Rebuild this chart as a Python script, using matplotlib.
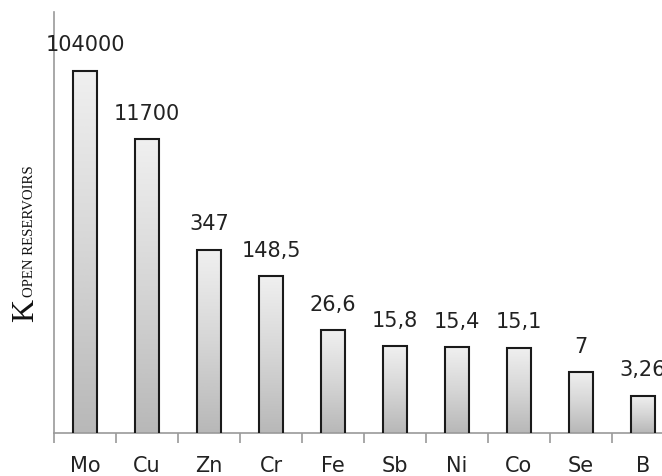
import numpy as np
import matplotlib
matplotlib.use("Agg")
import matplotlib.pyplot as plt
from matplotlib.colors import LinearSegmentedColormap

categories = ["Mo", "Cu", "Zn", "Cr", "Fe", "Sb", "Ni", "Co", "Se", "B"]
values = [104000, 11700, 347, 148.5, 26.6, 15.8, 15.4, 15.1, 7, 3.26]
value_labels = ["104000", "11700", "347", "148,5", "26,6", "15,8", "15,4", "15,1", "7", "3,26"]

W, H, DPI = 662, 476, 100
fig = plt.figure(figsize=(W / DPI, H / DPI), dpi=DPI)
ax = fig.add_axes([54 / W, 43 / H, 620 / W, 421 / H])

x = np.arange(len(categories))
ax.set_yscale("log")
ax.set_xlim(-0.5, len(categories) - 0.5)
ax.set_ylim(1, 10 ** 5.83)

bars = ax.bar(x, values, width=0.4, facecolor="none", edgecolor="#1a1a1a",
              linewidth=1.5, zorder=3)

cmap = LinearSegmentedColormap.from_list("g", ["#b8b8b8", "#d6d6d6", "#f0f0f0"])
grad = np.linspace(0, 1, 256).reshape(-1, 1)
to_axes = ax.transAxes.inverted()
for b, v in zip(bars, values):
    ytop = to_axes.transform(ax.transData.transform((0, v)))[1]
    im = ax.imshow(grad, cmap=cmap, aspect="auto", origin="lower",
                   extent=(b.get_x(), b.get_x() + b.get_width(), 0, ytop),
                   transform=ax.get_xaxis_transform(), zorder=2,
                   interpolation="bilinear")
    im.set_clip_path(b)

for xi, v, lab in zip(x, values, value_labels):
    ax.annotate(lab, xy=(xi, v), xytext=(0, 14), textcoords="offset points",
                ha="center", va="baseline", fontsize=15, color="#222222",
                family="DejaVu Sans", annotation_clip=False)

for s in ["top", "right"]:
    ax.spines[s].set_visible(False)
for s in ["left", "bottom"]:
    ax.spines[s].set_color("#9a9a9a")
    ax.spines[s].set_linewidth(1.2)

ax.set_yticks([])
ax.yaxis.set_minor_locator(matplotlib.ticker.NullLocator())
ax.set_xticks(x)
ax.set_xticklabels(categories, fontsize=15, color="#222222", family="DejaVu Sans")
ax.set_xticks(np.arange(-0.5, len(categories), 1.0), minor=True)
ax.tick_params(axis="x", which="major", length=0, pad=16.5)
ax.tick_params(axis="x", which="minor", length=7, width=1.2, color="#9a9a9a",
               direction="out")

# y-axis label: large K with small-caps subscript
tk = fig.text(33 / W, (H - 322) / H, "K", rotation=90, rotation_mode="anchor",
              ha="left", va="baseline", fontsize=23, family="Liberation Serif",
              color="#111111")
fig.canvas.draw()
bb = tk.get_window_extent(fig.canvas.get_renderer())
fig.text(33 / W, (bb.y1 + 2) / H, "OPEN RESERVOIRS", rotation=90,
         rotation_mode="anchor", ha="left", va="baseline", fontsize=10.6,
         family="Liberation Serif", color="#111111")

fig.savefig("out.png", dpi=DPI)
